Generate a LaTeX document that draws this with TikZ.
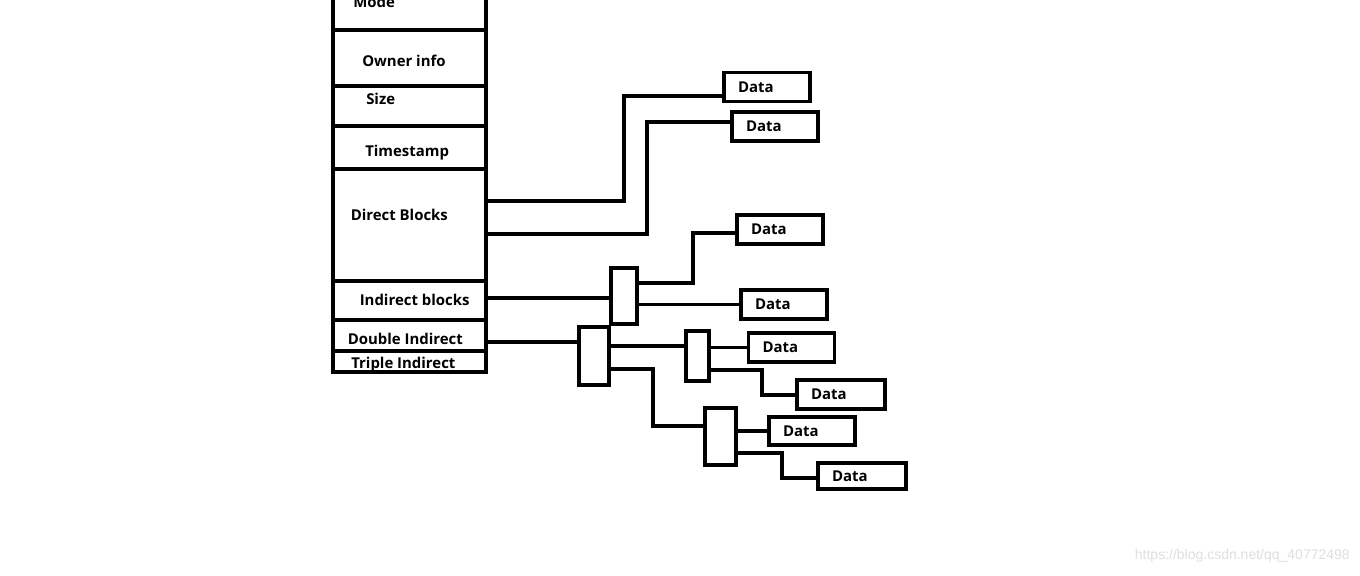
\documentclass[tikz,border=0pt]{standalone}
\usepackage{fontspec}
\usepackage{tikz}
\usetikzlibrary{positioning}
\newfontfamily\labelfont{Open Sans}
\newfontfamily\markfont{Liberation Sans}
\newlength\pix
\setlength\pix{0.75pt}

\begin{document}
\begin{tikzpicture}[
x=0.75pt, y=-0.75pt,
rownode/.style={rectangle, draw, line width=2.4pt, minimum width=153\pix, inner sep=0pt},
lbl/.style={anchor=base west, inner sep=0pt, font=\labelfont\bfseries\fontsize{11.2}{13}\selectfont},
datanode/.style={rectangle, draw, line width=2.4pt, text width=58\pix, align=left, inner xsep=14\pix, inner ysep=0pt, minimum height=29\pix, font=\labelfont\bfseries\fontsize{11.2}{13}\selectfont},
ptrnode/.style={rectangle, draw, line width=2.4pt, inner sep=0pt},
link/.style={line width=2.4pt}
]
\clip (0,0) rectangle (1360,575);

%Inode column
\node[rownode, minimum height=60\pix]  (mode)   at (409.5,0)     {};
\node[rownode, minimum height=56\pix]  (owner)  at (409.5,58)    {};
\node[rownode, minimum height=40\pix]  (size)   at (409.5,106)   {};
\node[rownode, minimum height=43\pix]  (tstamp) at (409.5,147.5) {};
\node[rownode, minimum height=112\pix] (dirblk) at (409.5,225)   {};
\node[rownode, minimum height=39\pix]  (indblk) at (409.5,300.5) {};
\node[rownode, minimum height=31\pix]  (dblblk) at (409.5,335.5) {};
\node[rownode, minimum height=21\pix]  (trpblk) at (409.5,361.5) {};
%Row labels
\node[lbl] (modetxt)   at (353,7)   {Mode};
\node[lbl] (ownertxt)  at (362,66)  {Owner info};
\node[lbl] (sizetxt)   at (366,104) {Size};
\node[lbl] (tstamptxt) at (365,156) {Timestamp};
\node[lbl] (dirtxt)    at (350.5,220) {Direct Blocks};
\node[lbl] (indtxt)    at (359.5,305) {Indirect blocks};
\node[lbl] (dbltxt)    at (347.5,344) {Double Indirect};
\node[lbl] (trptxt)    at (351,368) {Triple Indirect};

%Pointer blocks
\node[ptrnode, minimum width=26\pix, minimum height=56\pix] (ptrA) at (624,296)     {};
\node[ptrnode, minimum width=30\pix, minimum height=58\pix] (ptrB) at (594,356)     {};
\node[ptrnode, minimum width=23\pix, minimum height=50\pix] (ptrC) at (697.5,356)   {};
\node[ptrnode, minimum width=31\pix, minimum height=57\pix] (ptrD) at (720.5,436.5) {};

%Data blocks
\node[datanode] (data1) at (767,87)      {Data};
\node[datanode] (data2) at (775,126.5)   {Data};
\node[datanode] (data3) at (780,229.5)   {Data};
\node[datanode] (data4) at (784,304.5)   {Data};
\node[datanode] (data5) at (791.5,347.5) {Data};
\node[datanode, text width=60\pix, inner xsep=14\pix] (data6) at (841,394.5) {Data};
\node[datanode, minimum height=28\pix] (data7) at (812,431) {Data};
\node[datanode, text width=60\pix, minimum height=26\pix] (data8) at (862,476) {Data};

%Bends
\coordinate (j1) at (624,96);
\coordinate (j2) at (647,122);
\coordinate (j3) at (693,233);
\coordinate (j4) at (762,395);
\coordinate (j5) at (653,426);
\coordinate (j6) at (782,478);

%Edges
\draw[link] (dirblk.east |- 0,201) -| (j1) -- (j1 -| data1.west);
\draw[link] (dirblk.east |- 0,234) -| (j2) -- (j2 -| data2.west);
\draw[link] (indblk.east |- 0,298) -- (ptrA.west |- 0,298);
\draw[link] (ptrA.east |- 0,283) -| (j3) -- (j3 -| data3.west);
\draw[link] (ptrA.east |- data4.west) -- (data4.west);
\draw[link] (dblblk.east |- 0,342) -- (ptrB.west |- 0,342);
\draw[link] (ptrB.east |- 0,346) -- (ptrC.west |- 0,346);
\draw[link] (ptrC.east |- data5.west) -- (data5.west);
\draw[link] (ptrC.east |- 0,370) -| (j4) -- (j4 -| data6.west);
\draw[link] (ptrB.east |- 0,369) -| (j5) -- (j5 -| ptrD.west);
\draw[link] (ptrD.east |- data7.west) -- (data7.west);
\draw[link] (ptrD.east |- 0,453) -| (j6) -- (j6 -| data8.west);

%Watermark
\node[anchor=east, inner sep=0pt, text=black!13, font=\markfont\fontsize{10.5}{12}\selectfont] (mark) at (1350,556) {https://blog.csdn.net/qq\_40772498};
\end{tikzpicture}
\end{document}
